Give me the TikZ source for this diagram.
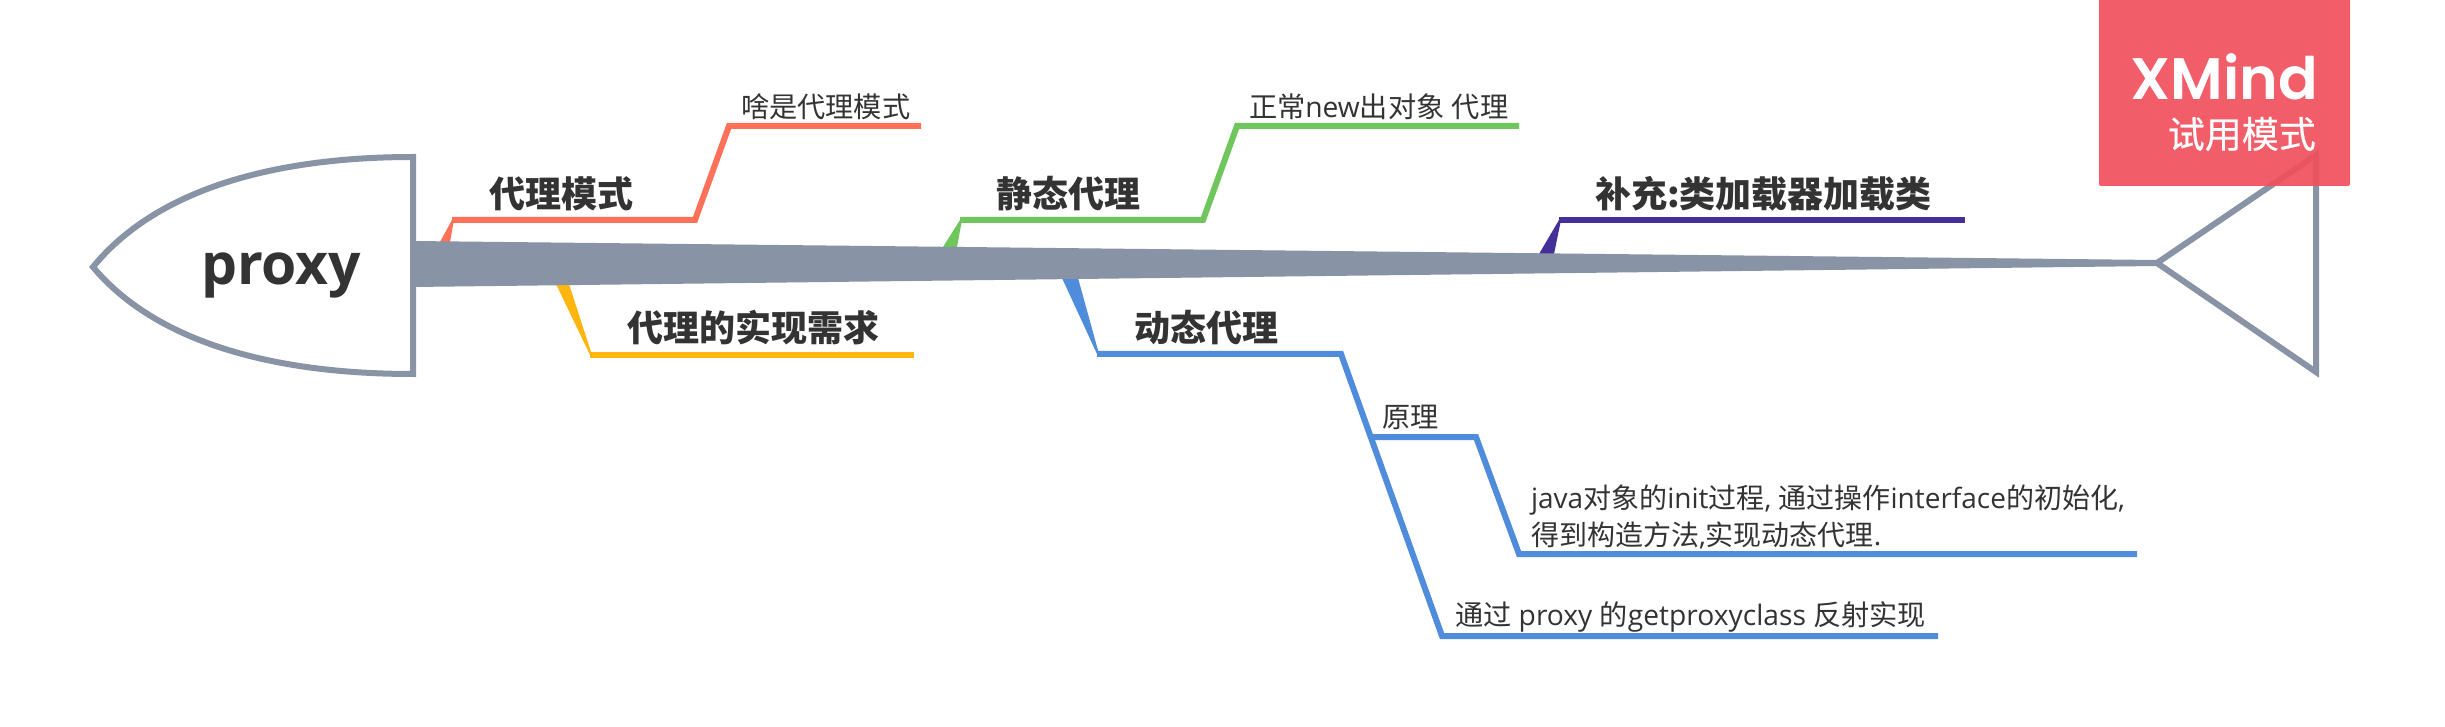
\documentclass[tikz,border=0pt]{standalone}
\usepackage{fontspec}
\setmainfont{Open Sans}
\newfontfamily\cjk{Noto Sans CJK SC}
\newfontfamily\cjkm[FakeBold=0.4]{Noto Sans CJK SC}
\newfontfamily\xm{Poppins SemiBold}
\newcommand{\zh}[1]{{\cjk #1}}
\definecolor{spine}{HTML}{8893A5}
\definecolor{ink}{HTML}{333333}
\definecolor{cred}{HTML}{FE7058}
\definecolor{cyel}{HTML}{FFB60F}
\definecolor{cgrn}{HTML}{6FC65C}
\definecolor{cblu}{HTML}{4F8CDB}
\definecolor{cpur}{HTML}{45309A}
\definecolor{badge}{HTML}{F0505C}
\tikzset{
  x=1pt,y=-1pt,
  lbl/.style={inner sep=0pt,outer sep=0pt,text=ink,anchor=west},
  main/.style={lbl,font=\fontsize{36}{36}\selectfont\cjk\bfseries},
  sub/.style={lbl,font=\fontsize{28.2}{37}\selectfont,align=left},
  branch/.style={line width=6pt,line join=miter,miter limit=10},
  outline/.style={draw=spine,line width=6pt,fill=white,line join=miter,miter limit=10},
}
\begin{document}
\begin{tikzpicture}
\useasboundingbox[fill=white] (0,0) rectangle (2445,727);
% spine ends
\coordinate (sa) at (413,241);
\coordinate (sb) at (2157,260);
\coordinate (sc) at (2157,266);
\coordinate (sd) at (413,287);
% branch vertices
\coordinate (r0a) at (440,242); \coordinate (r0b) at (450,242); \coordinate (r1) at (452,220);
\coordinate (r2) at (695,220); \coordinate (r3) at (729,126); \coordinate (r4) at (921,126);
\coordinate (y0a) at (556,284); \coordinate (y0b) at (569,284); \coordinate (y1) at (590,355); \coordinate (y2) at (914,355);
\coordinate (g0a) at (943,247); \coordinate (g0b) at (957,247); \coordinate (g1) at (960,220);
\coordinate (g2) at (1203,220); \coordinate (g3) at (1237,126); \coordinate (g4) at (1519,126);
\coordinate (b0a) at (1062,278); \coordinate (b0b) at (1078,278); \coordinate (b1) at (1097,354);
\coordinate (b2) at (1341,354); \coordinate (b3) at (1442,636); \coordinate (b4) at (1938,636);
\coordinate (b5) at (1372,437); \coordinate (b6) at (1476,437); \coordinate (b7) at (1519,554); \coordinate (b8) at (2137,554);
\coordinate (p0a) at (1539,254); \coordinate (p0b) at (1554,254); \coordinate (p1) at (1559,220); \coordinate (p2) at (1965,220);
% wedges
\fill[cred] (r0a) -- (r1) -- ([xshift=2pt]r1) -- (r0b) -- cycle;
\fill[cyel] (y0a) -- (y1) -- ([xshift=2pt]y1) -- (y0b) -- cycle;
\fill[cgrn] (g0a) -- (g1) -- ([xshift=2pt]g1) -- (g0b) -- cycle;
\fill[cblu] (b0a) -- (b1) -- ([xshift=2pt]b1) -- (b0b) -- cycle;
\fill[cpur] (p0a) -- (p1) -- ([xshift=2pt]p1) -- (p0b) -- cycle;
% branch lines
\draw[branch,cred] (r1) -- (r2) -- (r3) -- (r4);
\draw[branch,cyel] (y1) -- (y2);
\draw[branch,cgrn] (g1) -- (g2) -- (g3) -- (g4);
\draw[branch,cblu] (b1) -- (b2) -- (b3) -- (b4);
\draw[branch,cblu] (b5) -- (b6) -- (b7) -- (b8);
\draw[branch,cpur] (p1) -- (p2);
% spine
\fill[spine] (sa) -- (sb) -- (sc) -- (sd) -- cycle;
% head and tail
\draw[outline] (413,157) .. controls (270,157) and (155,191) .. (93,267) .. controls (155,341) and (270,374) .. (413,374) -- cycle;
\draw[outline] (2157,263) -- (2316,155) -- (2316,372) -- cycle;
% labels
\node[lbl,font=\fontsize{57}{57}\selectfont\bfseries] (proxy) at (201,275) {proxy};
\node[main] (t1) at (489,194) {代理模式};
\node[main] (t2) at (627,328) {代理的实现需求};
\node[main] (t3) at (996,194) {静态代理};
\node[main] (t4) at (1134,328) {动态代理};
\node[main] (t5) at (1595,194) {补充:类加载器加载类};
\node[sub] (s1) at (741,107) {\zh{啥是代理模式}};
\node[sub] (s2) at (1249,107) {\zh{正常}new\zh{出对象} \zh{代理}};
\node[sub] (s3) at (1382,417) {\zh{原理}};
\node[sub,font=\fontsize{28}{37}\selectfont] (s4) at (1531,517) {java\zh{对象的}init\zh{过程}, \zh{通过操作}interface\zh{的初始化},\\\zh{得到构造方法},\zh{实现动态代理}.};
\node[sub] (s5) at (1455,617) {\zh{通过} proxy \zh{的}getproxyclass \zh{反射实现}};
% badge
\fill[badge,fill opacity=.92,rounded corners=2pt] (2099,-6) rectangle (2350,186);
\node[inner sep=0pt,anchor=base east,text=white,font=\fontsize{58.5}{58}\selectfont\xm] (xm) at (2318,99.5) {XMind};
\node[inner sep=0pt,anchor=base east,text=white,font=\fontsize{37}{37}\selectfont\cjkm] (xt) at (2316,148) {试用模式};
\end{tikzpicture}
\end{document}
